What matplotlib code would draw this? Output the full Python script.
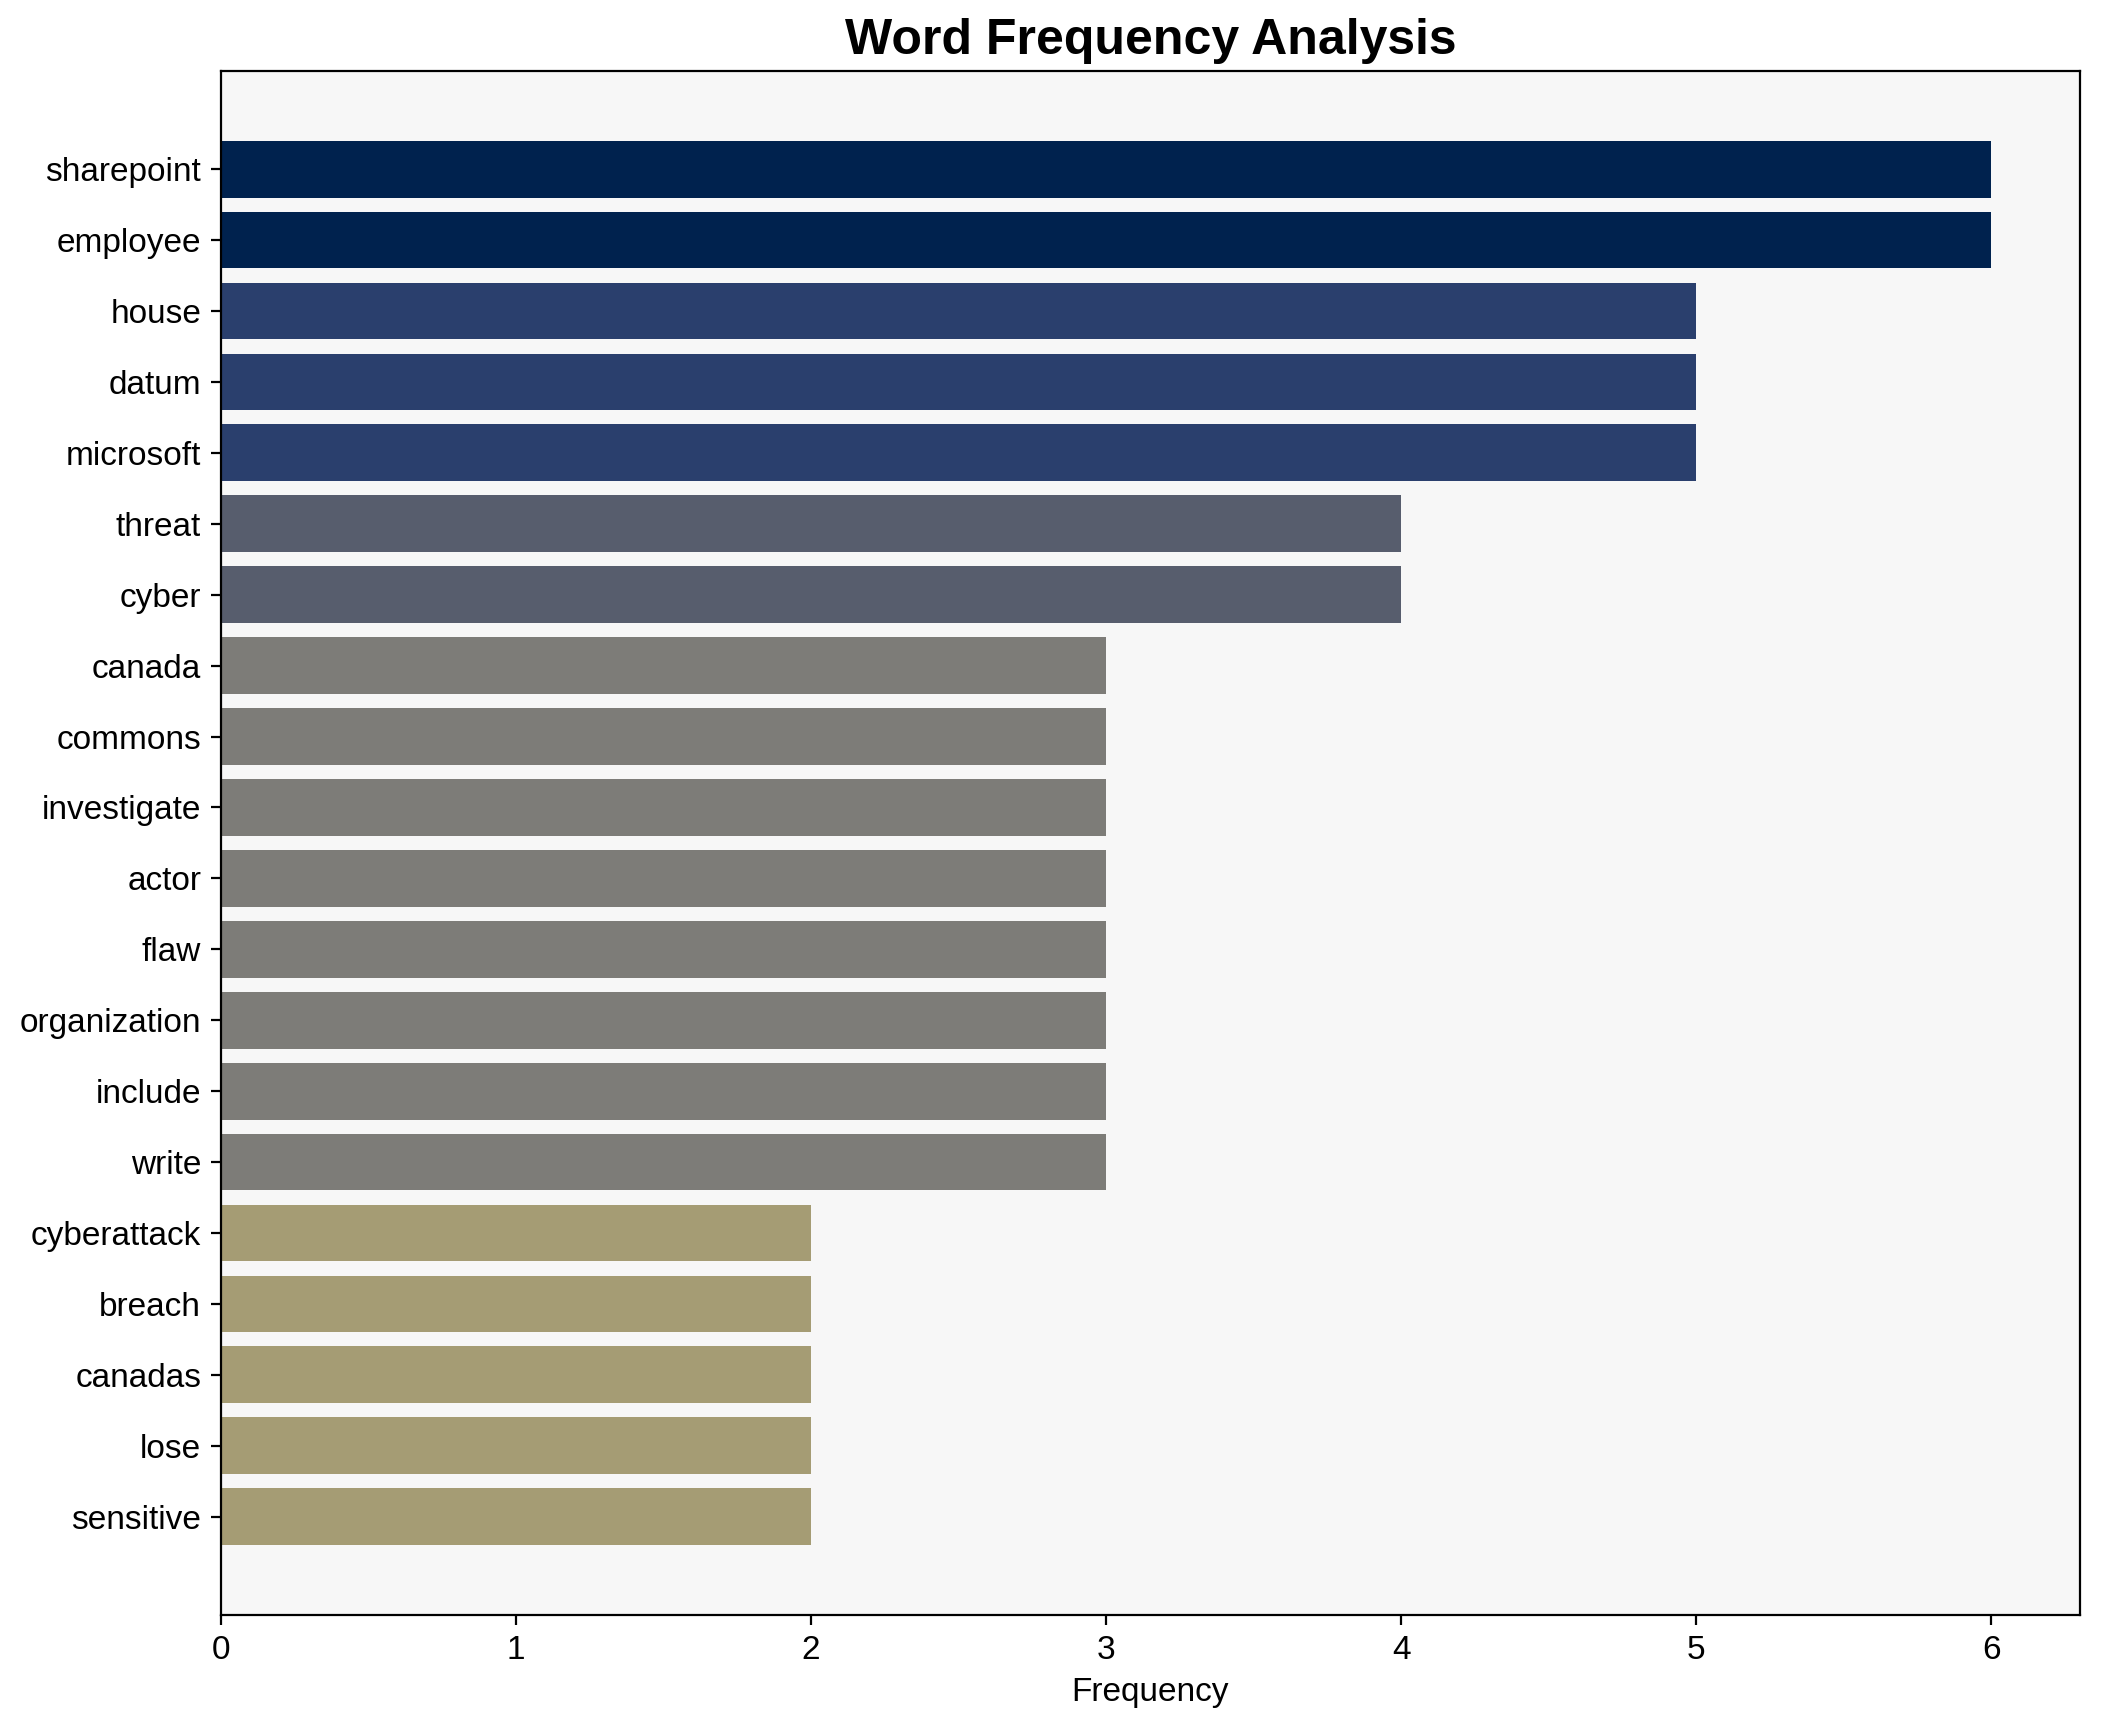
import numpy as np
import matplotlib
matplotlib.use("Agg")
import matplotlib.pyplot as plt

plt.rcParams['font.family'] = ['Liberation Sans', 'DejaVu Sans']

words = ['sharepoint', 'employee', 'house', 'datum', 'microsoft', 'threat', 'cyber',
         'canada', 'commons', 'investigate', 'actor', 'flaw', 'organization', 'include',
         'write', 'cyberattack', 'breach', 'canadas', 'lose', 'sensitive']
counts = [6, 6, 5, 5, 5, 4, 4, 3, 3, 3, 3, 3, 3, 3, 3, 2, 2, 2, 2, 2]

counts_arr = np.array(counts)
colors = plt.cm.cividis(1 - counts_arr / counts_arr.max())

fig, ax = plt.subplots(figsize=(10.505, 8.61), dpi=200)
ax.barh(words, counts, color=colors, height=0.8)
ax.invert_yaxis()
ax.set_facecolor('#f7f7f7')
ax.set_title('Word Frequency Analysis', fontsize=18, fontweight='bold')
ax.set_xlabel('Frequency', fontsize=12)
ax.tick_params(labelsize=12)

plt.subplots_adjust(left=0.105, right=0.99, top=0.959, bottom=0.062)
plt.savefig('out.png', dpi=200)
